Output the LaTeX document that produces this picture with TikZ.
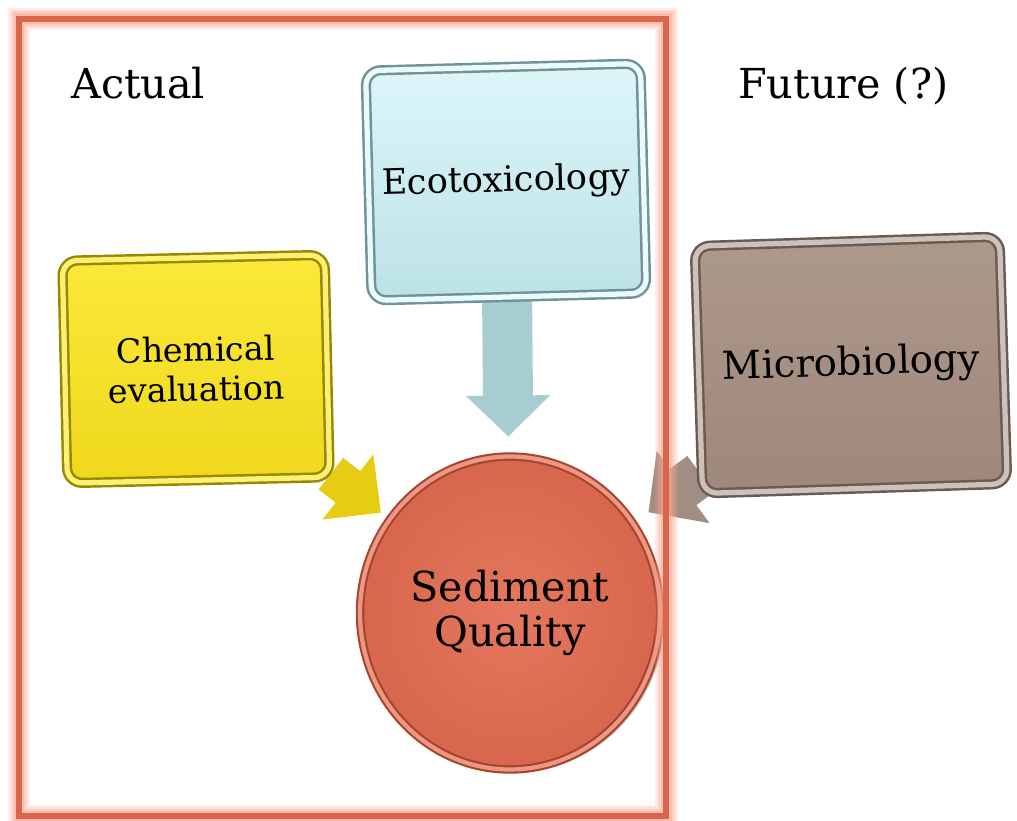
\documentclass[tikz,border=0pt]{standalone}
\usepackage{fontspec}
\setmainfont{DejaVu Serif}
\usepackage{tikz}
\usetikzlibrary{positioning}
\usetikzlibrary{arrows.meta,shapes.geometric,shadows,backgrounds}

\definecolor{framered}{HTML}{D9664A}
\definecolor{frameglow}{HTML}{FBA590}
\definecolor{ecotop}{HTML}{DDF6FA}
\definecolor{ecobot}{HTML}{BCE2E6}
\definecolor{ecoedge}{HTML}{6F9398}
\definecolor{ecoarrow}{HTML}{A7CDD1}
\definecolor{chemtop}{HTML}{FBE93A}
\definecolor{chembot}{HTML}{EFD81C}
\definecolor{chemedge}{HTML}{9A8700}
\definecolor{chemarrow}{HTML}{E6CD14}
\definecolor{microtop}{HTML}{AD988C}
\definecolor{microbot}{HTML}{9E887C}
\definecolor{microedge}{HTML}{6A5B52}
\definecolor{microarrow}{HTML}{A28D82}
\definecolor{sqfill}{HTML}{E26C50}
\definecolor{sqedge}{HTML}{A8432D}

\tikzset{
  panel/.style={rectangle, rounded corners=0.3cm, align=center, line width=1.4pt,
    double distance=3pt, inner sep=0pt,
    drop shadow={opacity=0.3, shadow xshift=0.07cm, shadow yshift=-0.07cm}},
  blockarrow/.style={line width=#1},
  label/.style={anchor=base west, font=\fontsize{23.5}{28}\selectfont}
}

\begin{document}
\begin{tikzpicture}[x=0.02cm, y=-0.02cm]
	\useasboundingbox (0,0) rectangle (1017,821);

	\node[panel, draw=ecoedge, double=ecotop!60!white, top color=ecotop, bottom color=ecobot,
	      minimum width=5.5cm, minimum height=4.6cm, rotate=1.5,
	      font=\fontsize{20}{24}\selectfont] (eco) at (506,182) {Ecotoxicology};
	\node[panel, draw=chemedge, double=chemtop!70!white, top color=chemtop, bottom color=chembot,
	      minimum width=5.25cm, minimum height=4.45cm, rotate=1.3,
	      font=\fontsize{19}{22.5}\selectfont] (chem) at (196,369) {Chemical\\evaluation};
	\node[panel, draw=microedge, double=microtop!60!white, top color=microtop, bottom color=microbot,
	      minimum width=6.1cm, minimum height=4.95cm, rotate=1.8,
	      font=\fontsize{22}{26}\selectfont] (micro) at (851,365) {Microbiology};

	\node[ellipse, draw=sqedge, double=sqfill!70!white, line width=1.2pt, double distance=2.4pt,
	      inner color=sqfill!92!white, outer color=sqfill!95!black,
	      minimum width=6cm, minimum height=6.26cm, align=center,
	      drop shadow={opacity=0.5, shadow xshift=0.1cm, shadow yshift=-0.05cm},
	      font=\fontsize{23.5}{25.6}\selectfont] (sq) at (510,613) {Sediment\\Quality};

	\node[label] (actual) at (65,98) {Actual};
	\node[label] (future) at (732,98) {Future (?)};

	\begin{pgfonlayer}{background}
		\fill[white] (0,0) rectangle (1017,821);
		\draw[blockarrow=1cm, ecoarrow, -{Triangle[width=1.64cm,length=0.82cm]}, shorten >=0.38cm] (eco) -- (sq);
		\draw[blockarrow=0.8cm, chemarrow, -{Triangle[width=1.6cm,length=0.84cm]}, shorten >=0.2cm] (chem) -- (sq);
		\draw[blockarrow=0.9cm, microarrow, -{Triangle[width=1.74cm,length=0.86cm]}, shorten >=0.36cm] (micro) -- (sq);
	\end{pgfonlayer}

	% frame round the actual part, with a soft glow
	\foreach \w/\o in {0.46/0.18, 0.38/0.22, 0.3/0.28, 0.22/0.4}
		\draw[frameglow, line width=\w cm, opacity=\o] (19,19) rectangle (666,816);
	\draw[framered, line width=0.12cm] (19,19) rectangle (666,816);
\end{tikzpicture}
\end{document}
